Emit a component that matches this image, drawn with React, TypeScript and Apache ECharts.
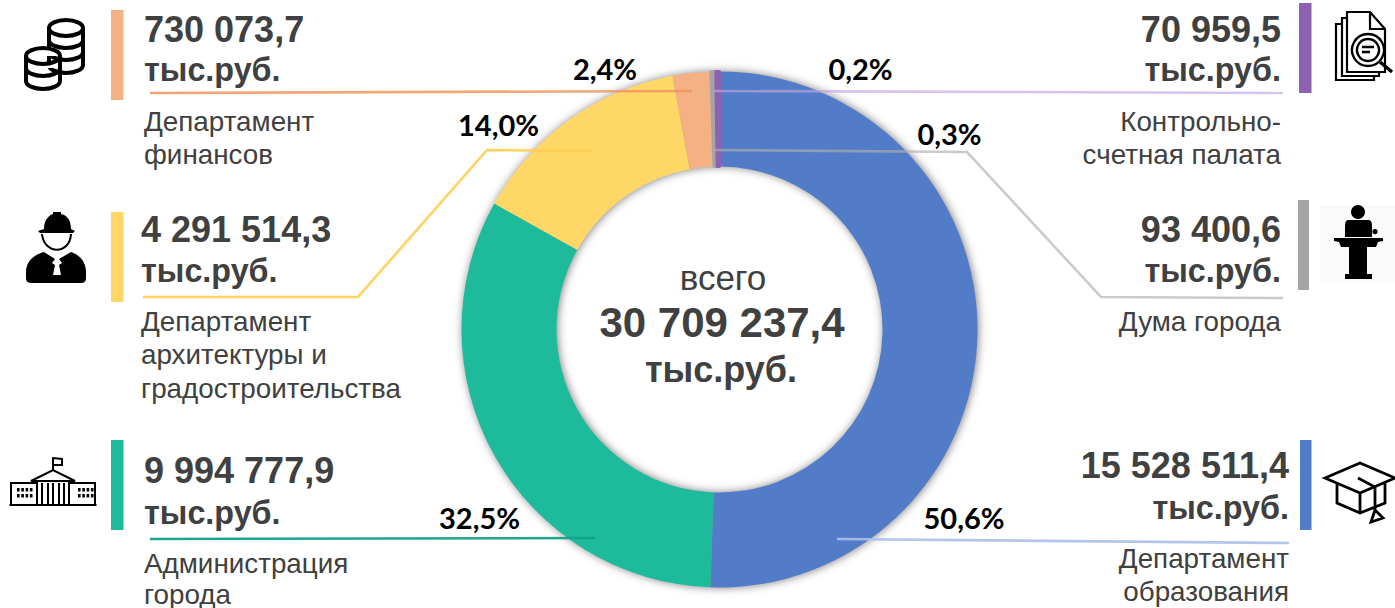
import React, { useEffect, useRef } from "react";
import * as echarts from "echarts";

const departments = ["Департамент образования", "Администрация города", "Департамент архитектуры и градостроительства", "Департамент финансов", "Дума города", "Контрольно-счетная палата"];
const amounts = [15528511.4, 9994777.9, 4291514.3, 730073.7, 93400.6, 70959.5];
const amountLabels = ["15 528 511,4", "9 994 777,9", "4 291 514,3", "730 073,7", "93 400,6", "70 959,5"];
const percentLabels = ["50,6%", "32,5%", "14,0%", "2,4%", "0,3%", "0,2%"];
const nameLines = [["Департамент", "образования"], ["Администрация", "города"], ["Департамент", "архитектуры и", "градостроительства"], ["Департамент", "финансов"], ["Дума города"], ["Контрольно-", "счетная палата"]];
const unitLabel = "тыс.руб.";
const totalCaption = "всего";
const totalLabel = "30 709 237,4";

const colors = ["#537CC8", "#1DBB9B", "#FFD766", "#F4B183", "#A5A5A5", "#8E62B0"];
const sliceOutline = [0, 0, 0, 0, 3, 3];
const TEXT = "#404040";
const SANS = "Liberation Sans";
const LABEL_FONT = "Lato";

// Layout of the side blocks: x anchor, y of the amount / unit / first name line, line gap, bar rectangle
const blocks = [
  { x: 1289, align: "right", yA: 465, yU: 508, yN: 558, gap: 33.5, bar: [1300, 440, 11.5, 90] },
  { x: 144, align: "left", yA: 470, yU: 513, yN: 563, gap: 31, bar: [111, 440, 12.5, 90] },
  { x: 141, align: "left", yA: 229, yU: 271, yN: 321, gap: 33.5, bar: [111, 212, 12.5, 90] },
  { x: 144, align: "left", yA: 29, yU: 70, yN: 121, gap: 33.5, bar: [111, 10, 12.5, 90] },
  { x: 1281, align: "right", yA: 229, yU: 271, yN: 321, gap: 33.5, bar: [1298, 200, 11, 90] },
  { x: 1281, align: "right", yA: 29, yU: 70, yN: 121, gap: 33.5, bar: [1299, 3, 12.5, 90] },
];
const percentPos = [[964, 517], [479.5, 517], [498.5, 124], [605, 68], [949.5, 133], [860.5, 68]];
const leaders: { pts: number[][]; color: string }[] = [
  { pts: [[837, 539], [1289, 543]], color: "rgba(170,192,232,0.9)" },
  { pts: [[150, 539], [595, 538]], color: "rgba(20,160,135,0.95)" },
  { pts: [[143, 297], [358, 297], [487, 150], [592, 151]], color: "rgba(255,205,80,0.9)" },
  { pts: [[150, 93], [692, 91]], color: "rgba(240,150,95,0.85)" },
  { pts: [[714, 150], [967, 152], [1101, 297], [1283, 298]], color: "rgba(175,175,175,0.65)" },
  { pts: [[714, 91], [1283, 93]], color: "rgba(190,165,220,0.65)" },
];

const coinStack = (cx: number, top: number, rx: number, ry: number, gaps: number[]) => {
  const total = gaps.reduce((a, b) => a + b, 0);
  let d = `M${cx - rx} ${top}A${rx} ${ry} 0 0 1 ${cx + rx} ${top}L${cx + rx} ${top + total}A${rx} ${ry} 0 0 1 ${cx - rx} ${top + total}Z`;
  d += `M${cx - rx} ${top}A${rx} ${ry} 0 0 0 ${cx + rx} ${top}`;
  let y = top;
  gaps.forEach((g, i) => {
    y += g;
    if (i < gaps.length - 1) d += `M${cx - rx} ${y}A${rx} ${ry} 0 0 0 ${cx + rx} ${y}`;
  });
  return d;
};
const windowDots = () => {
  let d = "";
  [[17, 488], [78, 488]].forEach(([x0, y0]) => {
    for (let r = 0; r < 2; r++) for (let c = 0; c < 4; c++) {
      const x = x0 + c * 4.3, y = y0 + r * 6;
      d += `M${x} ${y}h2.6v3.6h-2.6Z`;
    }
  });
  return d;
};

const iconShapes: Record<string, string> = {
  coinsBack: coinStack(66, 28, 17, 8, [12, 12, 13]),
  coinsFront: coinStack(43, 56, 17, 8, [12, 13]),
  helmet: "M44 229C44 219 50 215 53 214L53 212H61L61 214C66 215 71 219 71 229L75 231L73 233H40L38 231Z",
  engineerBody: "M44 252L55 259L52 263L55 265L53 275H61L59 265L62 263L59 259L71 252C80 255 86 262 86 272V278C86 282 84 283 80 283H33C28 283 26 282 26 278V272C26 262 33 255 44 252Z",
  speaker: "M1358 205a7 7 0 1 1 -0.01 0ZM1348 220H1368C1371 220 1372 222 1372 226V237H1345V226C1345 222 1346 220 1348 220ZM1334 238H1383V241L1378 242L1376 247H1341L1339 242L1334 241ZM1349 247H1367V274H1372V279H1345V274H1349ZM1375 229a2.6 2.6 0 1 1 -0.01 0Z",
  buildingFill: windowDots(),
  buildingLine:
    "M53 471V458L62 459V465L53 465M31 481L53 470L75 481ZM9.5 505H96.5M11 504V483H37V504M69 504V483H95V504M37 481V504M42 483V504M48 483V504M53 483V504M59 483V504M64 483V504M69 481V504",
  docs:
    "M1347 12H1370L1385 29V72H1347ZM1370 12V29H1385M1347 18H1342V76H1379V72M1342 24H1336V80H1374V76",
  lens: "M1368 34a16 16 0 1 1 -0.01 0ZM1368 39a11 11 0 1 1 -0.01 0ZM1362 47H1374M1362 52H1370",
  lensHandle: "M1380 62L1392 72",
  cap: "M1325 478L1360 463L1395 478L1360 493ZM1337 483V503L1360 513L1385 503V483M1360 493V513M1358 478L1375 487V510M1375 510L1371 522L1383 518Z",
};
Object.entries(iconShapes).forEach(([k, d]) => {
  echarts.graphic.registerShape(k, echarts.graphic.extendPath(d, {}));
});
const icon = (type: string, style: any) => ({ type, x: 0, y: 0, z: 10, silent: true, style });
const line = { fill: "none", stroke: "#000", lineWidth: 3 };

export default function App() {
  const ref = useRef<HTMLDivElement>(null);
  useEffect(() => {
    document.body.style.margin = "0";
    const chart = echarts.init(ref.current!, undefined, { renderer: "svg" });
    const txt = (text: string, x: number, y: number, size: number, weight: string, align = "left", fill = TEXT, family = SANS) => ({
      type: "text", x, y, z: 10, silent: true,
      style: { text, fontSize: size, fontWeight: weight, fontFamily: family, fill, align, verticalAlign: "middle" },
    });
    const graphics: any[] = [];
    // soft shadow under the ring
    graphics.push({
      type: "ring", z: 0, silent: true,
      shape: { cx: 719.5, cy: 329.5, r: 257.5, r0: 163.5 },
      style: { fill: "#999", shadowBlur: 10, shadowColor: "rgba(0,0,0,0.55)", shadowOffsetX: 1, shadowOffsetY: 0 },
    });
    blocks.forEach((b, i) => {
      const [x, y, w, h] = b.bar;
      graphics.push({ type: "rect", z: 10, silent: true, shape: { x, y, width: w, height: h }, style: { fill: colors[i] } });
      graphics.push(txt(amountLabels[i], b.x, b.yA, 36, "bold", b.align));
      graphics.push(txt(unitLabel, b.x, b.yU, 32.3, "bold", b.align));
      nameLines[i].forEach((l, j) => graphics.push(txt(l, b.x, b.yN + j * b.gap, 27.8, "normal", b.align)));
      graphics.push(txt(percentLabels[i], percentPos[i][0], percentPos[i][1], 29, "bold", "center", "#000", LABEL_FONT));
      graphics.push({
        type: "polyline", z: 9, silent: true,
        shape: { points: leaders[i].pts },
        style: { fill: "none", stroke: leaders[i].color, lineWidth: 2.6 },
      });
    });
    graphics.push(txt(totalCaption, 723, 277, 35, "normal", "center"));
    graphics.push(txt(totalLabel, 722, 322, 42, "bold", "center"));
    graphics.push(txt(unitLabel, 721, 369, 36, "bold", "center"));
    // icons
    graphics.push(icon("coinsBack", { ...line, fill: "#fff", lineWidth: 4 }));
    graphics.push(icon("coinsFront", { ...line, fill: "#fff", lineWidth: 4 }));
    graphics.push(icon("helmet", { fill: "#000" }));
    graphics.push({ type: "bezierCurve", z: 10, silent: true, shape: { x1: 42, y1: 234, cpx1: 44, cpy1: 255, cpx2: 70, cpy2: 255, x2: 71, y2: 234 }, style: { stroke: "#000", lineWidth: 2, fill: "none" } });
    graphics.push(icon("engineerBody", { fill: "#000" }));
    graphics.push(icon("buildingFill", { fill: "#000" }));
    graphics.push(icon("buildingLine", { ...line, lineWidth: 2 }));
    graphics.push({ type: "rect", z: 9, silent: true, shape: { x: 1320, y: 205, width: 75, height: 77 }, style: { fill: "#fafafa" } });
    graphics.push(icon("speaker", { fill: "#000" }));
    graphics.push(icon("docs", { ...line, lineWidth: 2.2 }));
    graphics.push(icon("lens", { ...line, fill: "#fff", lineWidth: 2.4 }));
    graphics.push(icon("lensHandle", { ...line, lineWidth: 3.5 }));
    graphics.push(icon("cap", { ...line, lineWidth: 2.8 }));

    chart.setOption({
      animation: false,
      graphic: { elements: graphics },
      series: [
        {
          type: "pie",
          silent: true,
          center: [719.5, 329.5],
          radius: [163, 258],
          startAngle: 90,
          clockwise: true,
          label: { show: false },
          labelLine: { show: false },
          z: 2,
          data: departments.map((name, i) => ({
            name,
            value: amounts[i],
            itemStyle: { color: colors[i], borderColor: colors[i], borderWidth: sliceOutline[i] },
          })),
        },
      ],
    });
    return () => chart.dispose();
  }, []);
  return <div ref={ref} style={{ position: "absolute", left: 0, top: 0, width: 1395, height: 608, background: "#fff" }} />;
}
